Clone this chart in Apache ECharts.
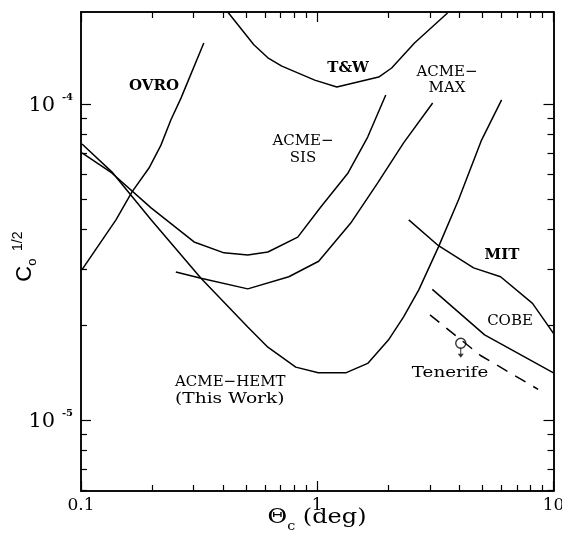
<!DOCTYPE html>
<html>
<head>
<meta charset="utf-8">
<script src="https://cdn.jsdelivr.net/npm/echarts@6/dist/echarts.min.js"></script>
<style>
html, body { margin: 0; padding: 0; background: #fff; }
#main { width: 562px; height: 535px; }
</style>
</head>
<body>
<div id="main"></div>
<script>
// theta_c (deg) vs C_o^(1/2)
var ovroX = [0.101, 0.1406, 0.1644, 0.194, 0.218, 0.240, 0.265, 0.331];
var ovroY = [2.99e-5, 4.30e-5, 5.27e-5, 6.27e-5, 7.41e-5, 8.90e-5, 1.044e-4, 1.56e-4];
var twX = [0.418, 0.539, 0.618, 0.708, 0.976, 1.21, 1.82, 2.065, 2.58, 3.56];
var twY = [1.955e-4, 1.54e-4, 1.40e-4, 1.318e-4, 1.19e-4, 1.132e-4, 1.217e-4, 1.30e-4, 1.56e-4, 1.94e-4];
var sisX = [0.101, 0.135, 0.198, 0.301, 0.403, 0.508, 0.618, 0.827, 1.035, 1.35, 1.635, 1.95];
var sisY = [7.0e-5, 6.05e-5, 4.69e-5, 3.66e-5, 3.38e-5, 3.33e-5, 3.40e-5, 3.79e-5, 4.72e-5, 6.05e-5, 7.86e-5, 1.068e-4];
var maxX = [0.252, 0.322, 0.508, 0.758, 1.014, 1.386, 1.80, 2.32, 3.08];
var maxY = [2.94e-5, 2.81e-5, 2.60e-5, 2.84e-5, 3.18e-5, 4.20e-5, 5.62e-5, 7.53e-5, 1.007e-4];
var hemtX = [0.101, 0.135, 0.198, 0.322, 0.508, 0.618, 0.811, 1.01, 1.32, 1.635, 2.00, 2.32, 2.69, 3.26, 3.96, 4.96, 6.03];
var hemtY = [7.47e-5, 6.10e-5, 4.30e-5, 2.81e-5, 1.97e-5, 1.70e-5, 1.47e-5, 1.41e-5, 1.41e-5, 1.51e-5, 1.79e-5, 2.12e-5, 2.58e-5, 3.53e-5, 4.97e-5, 7.69e-5, 1.03e-4];
var mitX = [2.44, 3.26, 4.59, 5.97, 8.15, 10];
var mitY = [4.30e-5, 3.56e-5, 3.03e-5, 2.84e-5, 2.34e-5, 1.88e-5];
var cobeX = [3.07, 5.11, 10];
var cobeY = [2.59e-5, 1.86e-5, 1.41e-5];
var tenLineX = [3.00, 4.91, 8.61];
var tenLineY = [2.15e-5, 1.60e-5, 1.25e-5];
var tenPointX = [4.05];
var tenPointY = [1.75e-5];

// tick values
var xMajor = [0.1, 1, 10];
var xMinor = [0.2, 0.3, 0.4, 0.5, 0.6, 0.7, 0.8, 0.9, 2, 3, 4, 5, 6, 7, 8, 9];
var yMajor = [1e-5, 1e-4];
var yMinor = [6e-6, 7e-6, 8e-6, 9e-6, 2e-5, 3e-5, 4e-5, 5e-5, 6e-5, 7e-5, 8e-5, 9e-5];

var serif = '"DejaVu Serif", "Liberation Serif", serif';
var sans = '"Liberation Sans", sans-serif';

function zip(xs, ys) {
    return xs.map(function(x, i) { return [x, ys[i]]; });
}

// one axis per side and tick kind (major ticks are longer)
function xAxisDef(pos, ticks, len, main) {
    return {
        type: 'log', logBase: 10, min: 0.1, max: 10, position: pos,
        axisLine: {show: true, onZero: false, lineStyle: {color: '#000', width: 1.5}},
        axisTick: {show: true, inside: true, length: len, customValues: ticks, lineStyle: {color: '#000', width: 1.2}},
        axisLabel: main ? {
            show: true, customValues: xMajor, margin: 6, color: '#000',
            fontFamily: serif, fontSize: 17,
            formatter: function(v) { return v < 0.5 ? '0.1' : String(Math.round(v)); }
        } : {show: false},
        splitLine: {show: false}
    };
}

function yAxisDef(pos, ticks, len, main) {
    return {
        type: 'log', logBase: 10, min: 5.96e-6, max: 1.955e-4, position: pos,
        axisLine: {show: true, onZero: false, lineStyle: {color: '#000', width: 1.5}},
        axisTick: {show: true, inside: true, length: len, customValues: ticks, lineStyle: {color: '#000', width: 1.2}},
        axisLabel: main ? {
            show: true, customValues: yMajor, margin: 8, color: '#000',
            formatter: function(v) { return '{n|10 }{e|' + Math.round(Math.log10(v)) + '}'; },
            rich: {
                n: {fontFamily: serif, fontSize: 21, color: '#000', lineHeight: 24, verticalAlign: 'bottom'},
                e: {fontFamily: serif, fontSize: 10, fontWeight: 'bold', color: '#000', lineHeight: 14, verticalAlign: 'top'}
            }
        } : {show: false},
        splitLine: {show: false},
        name: main ? '{c|C}{o|o}{p|   }{s|1/2}{p|    }' : '',
        nameLocation: 'middle', nameRotate: 90, nameGap: 42, nameMoveOverlap: false,
        nameTextStyle: {
            color: '#000',
            rich: {
                c: {fontFamily: sans, fontSize: 22, color: '#000', lineHeight: 28, verticalAlign: 'middle'},
                o: {fontFamily: sans, fontSize: 13, color: '#000', lineHeight: 12, verticalAlign: 'bottom'},
                p: {fontSize: 8, lineHeight: 12},
                s: {fontFamily: sans, fontSize: 14, color: '#000', lineHeight: 12, verticalAlign: 'top'}
            }
        }
    };
}

function curve(name, xs, ys, dashed) {
    return {
        name: name, type: 'line', xAxisIndex: 0, yAxisIndex: 0,
        data: zip(xs, ys), symbol: 'none', smooth: false, silent: true,
        lineStyle: {color: '#000', width: 1.5, type: dashed ? [12, 9] : 'solid'}
    };
}

// text in the plot; sx widens the lowercase-heavy labels
function label(text, x, y, align, weight, sx) {
    return {
        type: 'text', x: x, y: y, scaleX: sx || 1,
        style: {
            text: text, fill: '#000', align: align || 'center', verticalAlign: 'middle',
            fontFamily: serif, fontSize: 15, fontWeight: weight || 'normal', lineHeight: 16
        }
    };
}

var chart = echarts.init(document.getElementById('main'), null, {renderer: 'canvas'});
chart.setOption({
    animation: false,
    backgroundColor: '#fff',
    textStyle: {fontFamily: serif},
    grid: {left: 81, right: 8.5, top: 12, bottom: 44, outerBoundsMode: 'none', containLabel: false},
    xAxis: [
        xAxisDef('bottom', xMajor, 10, true),
        xAxisDef('bottom', xMinor, 6, false),
        xAxisDef('top', xMajor, 10, false),
        xAxisDef('top', xMinor, 6, false)
    ],
    yAxis: [
        yAxisDef('left', yMajor, 10, true),
        yAxisDef('left', yMinor, 6, false),
        yAxisDef('right', yMajor, 10, false),
        yAxisDef('right', yMinor, 6, false)
    ],
    series: [
        curve('OVRO', ovroX, ovroY),
        curve('T&W', twX, twY),
        curve('ACME-SIS', sisX, sisY),
        curve('ACME-MAX', maxX, maxY),
        curve('ACME-HEMT', hemtX, hemtY),
        curve('MIT', mitX, mitY),
        curve('COBE', cobeX, cobeY),
        curve('Tenerife', tenLineX, tenLineY, true),
        {
            // Tenerife upper limit: open circle with downward arrow
            type: 'scatter', xAxisIndex: 0, yAxisIndex: 0, silent: true,
            data: zip(tenPointX, tenPointY),
            symbol: 'path://M2.5,0 L3.5,0 L3.5,7 L6,7 L3,11 L0,7 L2.5,7 Z',
            symbolSize: [6, 11], symbolOffset: [0, 9],
            itemStyle: {color: '#000'}
        },
        {
            type: 'scatter', xAxisIndex: 0, yAxisIndex: 0, silent: true,
            data: zip(tenPointX, tenPointY),
            symbol: 'circle', symbolSize: 10,
            itemStyle: {color: '#fff', borderColor: '#000', borderWidth: 1.4}
        }
    ],
    graphic: [
        label('OVRO', 154, 86, 'center', 'bold'),
        label('T&W', 348, 68, 'center', 'bold'),
        label('ACME−\nMAX', 447, 80),
        {
            type: 'text', x: 303, y: 150,
            style: {text: 'ACME−\nSIS', fill: '#000', align: 'center', verticalAlign: 'middle',
                fontFamily: serif, fontSize: 15, lineHeight: 17}
        },
        label('MIT', 502, 255, 'center', 'bold'),
        label('COBE', 510, 321),
        label('Tenerife', 450, 373, 'center', 'normal', 1.22),
        label('ACME−HEMT', 175, 382, 'left'),
        label('(This Work)', 175, 399, 'left', 'normal', 1.24),
        {
            // x-axis title
            type: 'text', x: 317, y: 518, scaleX: 1.2,
            style: {
                text: '{t|Θ}{c|c}{d| (deg)}', align: 'center', verticalAlign: 'middle', fill: '#000',
                rich: {
                    t: {fontFamily: serif, fontSize: 20, fill: '#000', lineHeight: 30, verticalAlign: 'middle'},
                    c: {fontFamily: serif, fontSize: 12, fill: '#000', lineHeight: 14, verticalAlign: 'bottom'},
                    d: {fontFamily: serif, fontSize: 20, fill: '#000', lineHeight: 30, verticalAlign: 'middle'}
                }
            }
        }
    ]
});
</script>
</body>
</html>
